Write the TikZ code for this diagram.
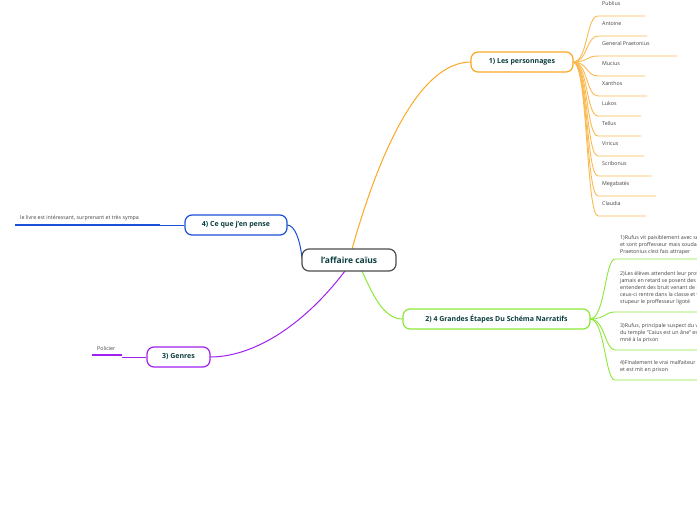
\documentclass[tikz,border=0pt]{standalone}
\usepackage{fontspec}
\setmainfont{Open Sans}
\definecolor{org}{HTML}{F9A825}
\definecolor{grn}{HTML}{8BE83A}
\definecolor{pur}{HTML}{A020F0}
\definecolor{blu}{HTML}{1A4FD8}
\definecolor{ttl}{HTML}{0B3D3D}
\begin{document}
\begin{tikzpicture}[x=1pt,y=-1pt,
 main/.style={draw=#1,line width=1.2pt,rounded corners=7pt,fill=white,font=\fontsize{7}{8}\selectfont\bfseries,text=ttl,inner sep=0pt},
 leaf/.style={font=\fontsize{5.3}{7}\selectfont,text=black!75,anchor=west,inner sep=0pt,align=left},
 br/.style={draw=#1,line width=1pt},
 sb/.style={draw=#1,line width=0.9pt}]
\useasboundingbox (0,0) rectangle (697,520);
\clip (0,0) rectangle (697,520);
% branches
\coordinate (c1) at (352,249);
\coordinate (c2) at (362,271);
\coordinate (c4) at (302,258);
\coordinate (c3) at (345,271);
\draw[br=org] (c1) .. controls (380,150) and (420,62) .. (471,62);
\draw[br=grn] (c2) .. controls (375,300) and (385,319) .. (403,319);
\draw[br=blu] (c4) .. controls (300,240) and (295,225) .. (287,225);
\draw[br=pur] (c3) .. controls (300,330) and (250,357) .. (210,357);
\node[main=black!70,minimum width=94pt,minimum height=22pt,font=\fontsize{8.5}{10}\selectfont\bfseries] (root) at (349,260) {l'affaire caïus};
\node[main=org,minimum width=102pt,minimum height=20pt] (p1) at (522,62) {1) Les personnages};
\node[main=grn,minimum width=187pt,minimum height=20pt] (p2) at (496.5,319) {2) 4 Grandes Étapes Du Schéma Narratifs};
\node[main=pur,minimum width=63pt,minimum height=20pt] (p3) at (178.5,357) {3) Genres};
\node[main=blu,minimum width=102pt,minimum height=20pt] (p4) at (236,225) {4) Ce que j'en pense};
% personnages
\coordinate (o) at (573,62);
\foreach \t/\y/\w in {Publius/4/47,Antoine/24/49,General Praetonius/44/79,Mucius/64/47,Xanthos/84/49,Lukos/104/43,Tellus/124/43,Viricus/144/46,Scribonus/164/54,Megabatès/184/58,Claudia/204/48}{
 \node[leaf] at (602,\y) {\t};
 \draw[sb=org!80] (o) .. controls (588,62) and (586,\y+12) .. (598,\y+12) -- ++(\w,0);
}
% etapes
\coordinate (g) at (590,319);
\node[leaf] at (620,245) {1)Rufus vit paisiblement avec ses amis\\et sont proffesseur mais soudain\\Praetonius c'est fais attraper};
\node[leaf] at (620,288) {2)Les élèves attendent leur professeur\\jamais en retard se posent des questions\\entendent des bruit venant de la classe\\ceux-ci rentre dans la classe et voient\\stupeur le proffesseur ligoté};
\node[leaf] at (620,333) {3)Rufus, principale suspect du vol\\du temple "Caius est un âne" est\\mné à la prison};
\node[leaf] at (620,367) {4)Finalement le vrai malfaiteur est trouvé\\et est mit en prison};
\foreach \y in {259,312,350,380}{
 \draw[sb=grn] (g) .. controls (605,319) and (605,\y) .. (615,\y) -- (697,\y);
}
% genres / opinion
\node[leaf] (pol) at (97,349) {Policier};
\draw[sb=pur] (p3.west) -- (122,357);
\draw[pur,line width=1.5pt] (122,355) -- (92,355);
\node[leaf] (op) at (20,218) {le livre est intéressant, surprenant et très sympa};
\draw[sb=blu] (p4.west) -- (160,225);
\draw[blu,line width=1.3pt] (160,225) -- (15,225);
\end{tikzpicture}
\end{document}
